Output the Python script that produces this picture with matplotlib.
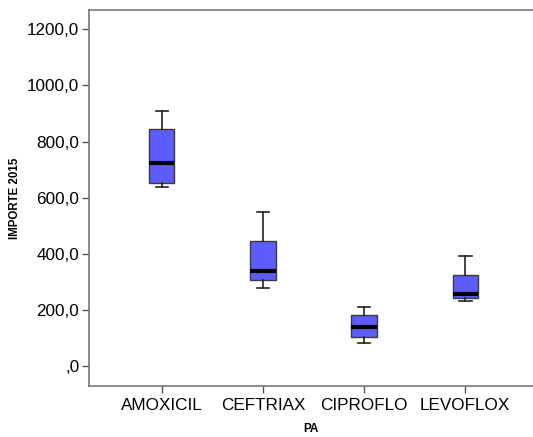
import matplotlib.pyplot as plt

plt.rcParams.update({
    "font.family": ["Liberation Sans", "DejaVu Sans"],
    "font.size": 10,
})

# Five-number summaries per drug (importe 2015)
categories = ["AMOXICIL", "CEFTRIAX", "CIPROFLO", "LEVOFLOX"]
whisker_low = [640, 279, 82, 232]
q1 = [654, 306, 106, 243]
medians = [725, 338, 141, 258]
q3 = [845, 447, 183, 326]
whisker_high = [910, 550, 212, 393]

y_ticks = [0, 200, 400, 600, 800, 1000, 1200]
y_tick_labels = [",0", "200,0", "400,0", "600,0", "800,0", "1000,0", "1200,0"]

stats = [
    {"label": name, "whislo": lo, "q1": a, "med": m, "q3": b, "whishi": hi,
     "fliers": []}
    for name, lo, a, m, b, hi in zip(categories, whisker_low, q1, medians,
                                    q3, whisker_high)
]

fig = plt.figure(figsize=(5.33, 4.37), dpi=100)
ax = fig.add_axes([0.167, 0.117, 0.833, 0.86])

positions = list(range(len(categories)))
ax.bxp(
    stats,
    positions=positions,
    widths=0.25,
    patch_artist=True,
    showfliers=False,
    boxprops={"facecolor": "#5c5cff", "edgecolor": "#3a3a3a", "linewidth": 1.0},
    medianprops={"color": "black", "linewidth": 3.0},
    whiskerprops={"color": "#222222", "linewidth": 1.2},
    capprops={"color": "#222222", "linewidth": 1.2},
    capwidths=0.125,
)

ax.set_xlim(-0.72, 3.67)
ax.set_ylim(-69, 1268)
ax.set_xticks(positions)
ax.set_xticklabels(categories, fontsize=12.3)
ax.set_yticks(y_ticks)
ax.set_yticklabels(y_tick_labels, fontsize=12.3)

for side in ("left", "top", "bottom"):
    ax.spines[side].set_color("#777777")
    ax.spines[side].set_linewidth(1.2)
ax.spines["right"].set_visible(False)
ax.tick_params(axis="both", direction="out", length=5, color="#555555",
               width=1.0, pad=2)
ax.tick_params(axis="x", pad=4)

ax.set_xlabel("PA", fontsize=8.5, fontweight="bold", labelpad=7)
ax.set_ylabel("IMPORTE 2015", fontsize=8.3, fontweight="bold", labelpad=4)

fig.savefig("out.png", dpi=100)
